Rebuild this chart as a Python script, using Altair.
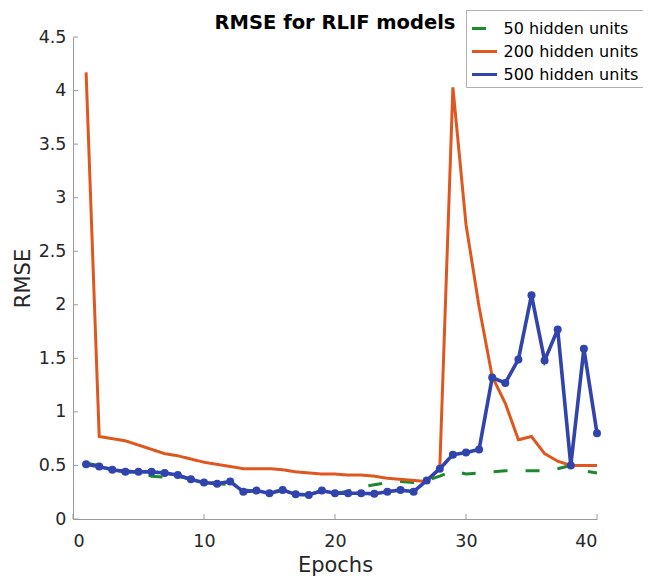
import altair as alt
import pandas as pd

epochs = list(range(1, 41))
rmse_50 = [0.52, 0.50, 0.46, 0.45, 0.44, 0.40, 0.39, 0.40, 0.37, 0.35,
           0.33, 0.32, 0.27, 0.26, 0.25, 0.27, 0.24, 0.23, 0.26, 0.24,
           0.26, 0.30, 0.32, 0.34, 0.35, 0.34, 0.36, 0.40, 0.45, 0.42,
           0.43, 0.44, 0.45, 0.45, 0.45, 0.45, 0.47, 0.50, 0.45, 0.43]
rmse_200 = [4.17, 0.77, 0.75, 0.73, 0.69, 0.65, 0.61, 0.59, 0.56, 0.53,
            0.51, 0.49, 0.47, 0.47, 0.47, 0.46, 0.44, 0.43, 0.42, 0.42,
            0.41, 0.41, 0.40, 0.38, 0.37, 0.36, 0.35, 0.48, 4.03, 2.75,
            1.98, 1.33, 1.08, 0.74, 0.77, 0.61, 0.54, 0.50, 0.50, 0.50]
rmse_500 = [0.51, 0.49, 0.46, 0.44, 0.44, 0.44, 0.43, 0.41, 0.37, 0.34,
            0.33, 0.35, 0.255, 0.265, 0.24, 0.27, 0.23, 0.225, 0.265, 0.24,
            0.24, 0.24, 0.235, 0.255, 0.27, 0.255, 0.36, 0.47, 0.60, 0.62,
            0.65, 1.32, 1.27, 1.49, 2.09, 1.48, 1.77, 0.50, 1.59, 0.80]

series_names = ["50 hidden units", "200 hidden units", "500 hidden units"]
series_colors = ["#1b8a2e", "#e0561f", "#3144ad"]
series_dashes = [[14, 18], [1, 0], [1, 0]]

x_ticks = [0, 10, 20, 30, 40]
y_ticks = [0, 0.5, 1, 1.5, 2, 2.5, 3, 3.5, 4, 4.5]

rows = []
for name, vals in zip(series_names, [rmse_50, rmse_200, rmse_500]):
    for e, v in zip(epochs, vals):
        rows.append({"epoch": e, "rmse": v, "series": name})
df = pd.DataFrame(rows)

FONT = "DejaVu Sans"
AXIS_GRAY = "#9a9a9a"
W, H = 524, 482

xscale = alt.Scale(domain=[0, 40], nice=False, zero=False)
yscale = alt.Scale(domain=[0, 4.5], nice=False, zero=False)

x_enc = alt.X("epoch:Q", scale=xscale,
              axis=alt.Axis(values=x_ticks, title="Epochs", ticks=False, grid=False,
                            labelPadding=13, titlePadding=5, format="d"))
y_enc = alt.Y("rmse:Q", scale=yscale,
              axis=alt.Axis(values=y_ticks, title="RMSE", ticks=False, grid=False,
                            labelPadding=7, titlePadding=5, format="~g"))
color_enc = alt.Color("series:N", scale=alt.Scale(domain=series_names, range=series_colors),
                      title=None)
dash_enc = alt.StrokeDash("series:N", scale=alt.Scale(domain=series_names, range=series_dashes),
                          title=None)

base = alt.Chart(df)

layers = []
for i, name in enumerate(series_names):
    layers.append(
        base.transform_filter(alt.datum.series == name)
        .mark_line(strokeWidth=3.6 if i == 2 else 3)
        .encode(x=x_enc, y=y_enc, color=color_enc, strokeDash=dash_enc)
    )

points = (
    base.transform_filter(alt.datum.series == series_names[2])
    .mark_circle(size=64, opacity=1, color=series_colors[2])
    .encode(x=alt.X("epoch:Q", scale=xscale), y=alt.Y("rmse:Q", scale=yscale))
)

ytick_layer = (
    alt.Chart(pd.DataFrame({"rmse": y_ticks}))
    .mark_rule(color=AXIS_GRAY, strokeWidth=1)
    .encode(y=alt.Y("rmse:Q", scale=yscale), x=alt.value(0), x2=alt.value(5))
)
xtick_layer = (
    alt.Chart(pd.DataFrame({"epoch": x_ticks}))
    .mark_rule(color=AXIS_GRAY, strokeWidth=1)
    .encode(x=alt.X("epoch:Q", scale=xscale), y=alt.value(H), y2=alt.value(H - 5))
)

chart = (
    alt.layer(*layers, points, ytick_layer, xtick_layer)
    .properties(
        width=W, height=H,
        title=alt.TitleParams("RMSE for RLIF models", font=FONT, fontSize=19.5,
                              fontWeight="bold", color="#000000", offset=8, dy=32,
                              anchor="middle", frame="group"),
        autosize=alt.AutoSizeParams(type="none"),
        padding={"left": 65, "top": 29, "right": 46, "bottom": 58},
    )
    .configure_view(stroke=None)
    .configure_axis(
        domainColor=AXIS_GRAY, domainWidth=1,
        labelFont=FONT, labelFontSize=17.5, labelColor="#262626",
        titleFont=FONT, titleFontSize=21, titleColor="#262626", titleFontWeight="normal",
    )
    .configure_legend(
        orient="none", legendX=393, legendY=-27,
        fillColor="#ffffff", strokeColor="#b0b0b0", strokeWidth=1,
        padding=4.5, symbolType="stroke", symbolSize=625, symbolStrokeWidth=3,
        labelFont=FONT, labelFontSize=16, labelColor="#000000", labelOffset=5,
        rowPadding=1, labelLimit=300,
    )
)

chart.save("out.html", embed_options={"renderer": "svg", "actions": False})
